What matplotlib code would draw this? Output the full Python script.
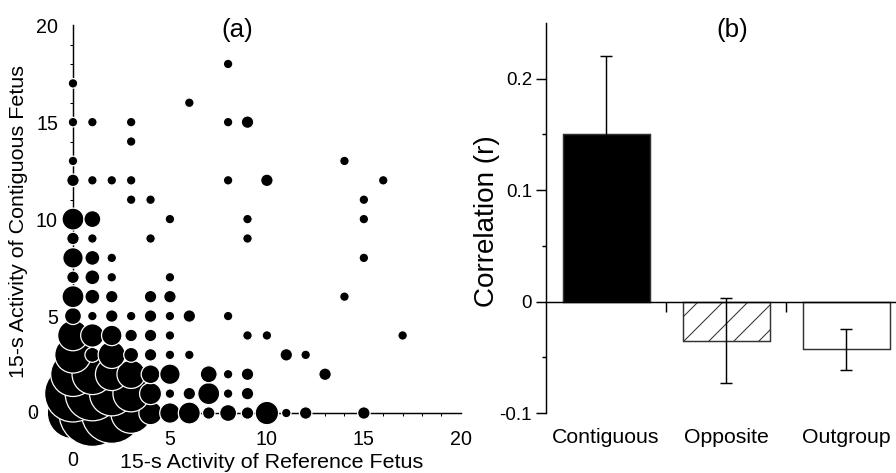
import matplotlib
matplotlib.use('Agg')
import matplotlib.pyplot as plt
from matplotlib.ticker import MultipleLocator, FixedLocator

plt.rcParams['font.family'] = ['Liberation Sans', 'DejaVu Sans']
plt.rcParams['hatch.linewidth'] = 0.5

# (a) joint distribution of 15-s activity counts: reference fetus (x) vs contiguous fetus (y)
ref_act = [0, 1, 2, 3, 4, 5, 6, 7, 8, 9, 10, 11, 12, 15,
           0, 1, 2, 3, 4, 5, 6, 7, 8, 9,
           0, 1, 2, 3, 4, 5, 7, 8, 9, 13,
           0, 1, 2, 3, 4, 5, 6, 11, 12,
           0, 1, 2, 3, 4, 5, 9, 10, 17,
           0, 1, 2, 3, 4, 5, 6, 8,
           0, 1, 2, 4, 5, 14,
           0, 1, 2, 5,
           0, 1, 2, 15,
           0, 1, 4, 9,
           0, 1, 5, 9, 15,
           3, 4, 15,
           0, 1, 2, 3, 8, 10, 16,
           0, 14,
           3,
           0, 1, 3, 8, 9,
           6,
           0,
           8]
cont_act = [0] * 14 + [1] * 10 + [2] * 10 + [3] * 9 + [4] * 9 + [5] * 8 + [6] * 6 + \
           [7] * 4 + [8] * 4 + [9] * 4 + [10] * 5 + [11] * 3 + [12] * 7 + [13] * 2 + \
           [14] * 1 + [15] * 5 + [16] * 1 + [17] * 1 + [18] * 1
n_obs = [40, 68, 56, 25, 8, 6, 7, 2, 4, 2, 8, 1, 2, 2,
         49, 45, 30, 20, 7, 1, 2, 7, 1, 2,
         30, 25, 16, 12, 5, 6, 4, 1, 2, 2,
         20, 3, 11, 3, 2, 1, 1, 2, 1,
         14, 8, 6, 2, 2, 1, 1, 1, 1,
         4, 1, 2, 1, 2, 1, 2, 1,
         7, 3, 2, 2, 2, 1,
         2, 3, 1, 1,
         6, 3, 1, 1,
         2, 1, 1, 1,
         7, 4, 1, 1, 1,
         1, 1, 1,
         2, 1, 1, 1, 1, 2, 1,
         1, 1,
         1,
         1, 1, 1, 1, 2,
         1,
         1,
         1]

# (b) mean correlation by pair type
groups = ['Contiguous', 'Opposite', 'Outgroup']
r_mean = [0.15, -0.035, -0.043]
r_err = [0.07, 0.038, 0.018]

W, H, DPI = 896, 473, 150
fig = plt.figure(figsize=(W / DPI, H / DPI), dpi=DPI)

# ---------------- panel (a)
ax1 = fig.add_axes([24.5 / W, 11.5 / H, 446 / W, 446 / H])
ax1.set_xlim(-2.5, 20.5)
ax1.set_ylim(-2.5, 20.5)
ax1.scatter(ref_act, cont_act, s=[15 * n + 6 for n in n_obs], c='black',
            edgecolors='white', linewidths=0.6, zorder=3, clip_on=False)

for sp in ['top', 'right']:
    ax1.spines[sp].set_visible(False)
for sp in ['left', 'bottom']:
    ax1.spines[sp].set_position(('data', 0))
    ax1.spines[sp].set_bounds(0, 20)
    ax1.spines[sp].set_linewidth(0.7)
ax1.set_axisbelow(True)
ax1.xaxis.set_major_locator(FixedLocator([5, 10, 15, 20]))
ax1.yaxis.set_major_locator(FixedLocator([5, 10, 15, 20]))
ax1.xaxis.set_minor_locator(MultipleLocator(1))
ax1.yaxis.set_minor_locator(MultipleLocator(1))
ax1.tick_params(axis='x', which='major', length=0, pad=8.2, labelsize=9.4)
ax1.tick_params(axis='y', which='major', length=0, pad=7.2, labelsize=9.4)
ax1.tick_params(which='minor', length=1.6, width=0.5, direction='out')
ax1.annotate('0', xy=(0, 0), xytext=(-16.8, 0), textcoords='offset points',
             ha='right', va='center', fontsize=9.4)
ax1.annotate('0', xy=(0, 0), xytext=(0, -18.2), textcoords='offset points',
             ha='center', va='top', fontsize=9.4)

fig.text(272 / W, 5 / H, '15-s Activity of Reference Fetus', ha='center',
         va='baseline', fontsize=10.3)
fig.text(19 / W, 252 / H, '15-s Activity of Contiguous Fetus', ha='center',
         va='center', rotation=90, fontsize=10.3)
fig.text(237 / W, 443 / H, '(a)', ha='center', va='center', fontsize=12.5)

# ---------------- panel (b)
ax2 = fig.add_axes([546 / W, 60 / H, 350 / W, 390 / H])
ax2.set_xlim(-0.5, -0.5 + 350 / 120)
ax2.set_ylim(-0.1, 0.25)
pos = list(range(len(groups)))
bars = ax2.bar(pos, r_mean, width=0.725, color=['black', 'white', 'white'],
               edgecolor='#333333', linewidth=0.7, zorder=2)
bars[1].set_hatch('//')
ax2.errorbar(pos, r_mean, yerr=r_err, fmt='none', ecolor='black',
             elinewidth=0.7, capsize=2.9, capthick=0.7, zorder=3)

for sp in ['top', 'right']:
    ax2.spines[sp].set_visible(False)
ax2.spines['bottom'].set_position(('data', 0))
ax2.spines['bottom'].set_linewidth(0.7)
ax2.spines['bottom'].set_zorder(4)
ax2.spines['left'].set_linewidth(0.7)
ax2.xaxis.set_major_locator(FixedLocator([0.5, 1.5]))
ax2.xaxis.set_major_formatter(plt.NullFormatter())
ax2.tick_params(axis='x', length=4.8, width=0.7, direction='out')
ax2.yaxis.set_major_locator(FixedLocator([-0.1, 0, 0.1, 0.2]))
ax2.set_yticklabels(['-0.1', '0', '0.1', '0.2'])
ax2.yaxis.set_minor_locator(FixedLocator([-0.05, 0.05, 0.15]))
ax2.tick_params(axis='y', which='major', length=4.8, width=0.7, pad=1.9,
                labelsize=9)
ax2.tick_params(axis='y', which='minor', length=1.9, width=0.7)

for i, g in enumerate(groups):
    ax2.text(i, -0.1265, g, ha='center', va='baseline', fontsize=10.2,
             clip_on=False)

fig.text(487 / W, 252 / H, 'Correlation (r)', ha='center', va='center',
         rotation=90, fontsize=13.4)
fig.text(732 / W, 443 / H, '(b)', ha='center', va='center', fontsize=12.5)

fig.savefig('out.png', dpi=DPI)
